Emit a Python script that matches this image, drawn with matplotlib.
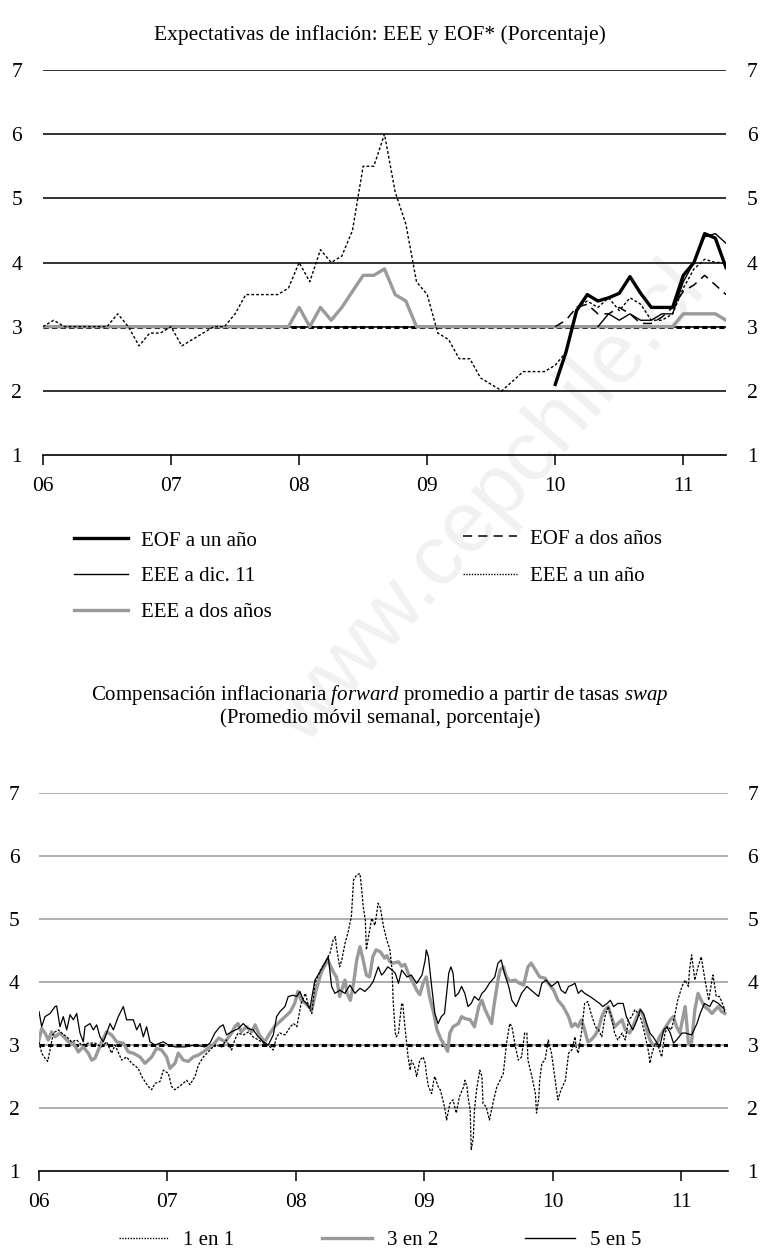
import numpy as np
import matplotlib
matplotlib.use("Agg")
import matplotlib.pyplot as plt
from matplotlib.lines import Line2D

plt.rcParams['font.family'] = ['Liberation Serif', 'DejaVu Serif']
plt.rcParams['mathtext.fontset'] = 'custom'
plt.rcParams['mathtext.it'] = 'Liberation Serif:italic'
plt.rcParams['mathtext.rm'] = 'Liberation Serif'

years = ['06', '07', '08', '09', '10', '11']
year_pos = [0, 12, 24, 36, 48, 60]   # months since Jan 2006

# --- top chart: monthly surveys (Jan 2006 = month 0) ---
eee_1y = [3.0, 3.1, 3.0, 3.0, 3.0, 3.0, 3.0, 3.2, 3.0, 2.7,
          2.9, 2.9, 3.0, 2.7, 2.8, 2.9, 3.0, 3.0, 3.2, 3.5,
          3.5, 3.5, 3.5, 3.6, 4.0, 3.7, 4.2, 4.0, 4.1, 4.5,
          5.5, 5.5, 6.0, 5.1, 4.6, 3.7, 3.5, 2.9, 2.8, 2.5,
          2.5, 2.2, 2.1, 2.0, 2.15, 2.3, 2.3, 2.3, 2.4, 2.6,
          3.3, 3.4, 3.3, 3.45, 3.25, 3.45, 3.35, 3.1, 3.1, 3.2,
          3.6, 3.9, 4.05, 4.0, 4.0]
eee_2y = [3.0] * 24 + [3.3, 3.0, 3.3, 3.1, 3.3, 3.55, 3.8, 3.8, 3.9, 3.5, 3.4] \
         + [3.0] * 25 + [3.2, 3.2, 3.2, 3.2, 3.1]
eee_dic11_start = 52
eee_dic11 = [3.0, 3.2, 3.1, 3.2, 3.1, 3.1, 3.2, 3.2, 3.7, 4.0, 4.4, 4.45, 4.3]
eof_start = 48
eof_1y = [2.1, 2.6, 3.25, 3.5, 3.4, 3.45, 3.52, 3.78, 3.52, 3.3, 3.3, 3.3,
          3.8, 4.0, 4.45, 4.38, 3.92]
eof_2y = [3.0, 3.1, 3.3, 3.35, 3.2, 3.2, 3.3, 3.2, 3.05, 3.05, 3.15, 3.3,
          3.55, 3.65, 3.8, 3.65, 3.5]
meta = 3.0

# --- bottom chart: (month since Jan 2006, %) ---
uno_en_uno = [
    (0.0, 3.05), (0.25, 2.87), (0.56, 2.79), (0.81, 2.74), (1.03, 2.92), (1.34, 3.19),
    (1.81, 3.24), (2.12, 3.19), (2.59, 3.13), (3.05, 3.05), (3.52, 3.08), (3.99, 3.0),
    (4.61, 3.03), (5.23, 3.03), (5.86, 2.97), (6.32, 3.05), (6.79, 2.87), (7.10, 3.0),
    (7.73, 2.76), (8.19, 2.81), (8.66, 2.71), (9.28, 2.63), (9.60, 2.50), (9.91, 2.42),
    (10.22, 2.34), (10.53, 2.29), (10.84, 2.39), (11.31, 2.42), (11.62, 2.60), (12.09, 2.55),
    (12.40, 2.34), (12.71, 2.29), (13.33, 2.37), (13.80, 2.44), (14.11, 2.37), (14.58, 2.50),
    (14.89, 2.68), (15.36, 2.81), (15.98, 2.92), (16.45, 3.0), (17.1, 2.97), (17.5, 3.08),
    (18.0, 2.92), (18.3, 3.08), (18.6, 3.19), (19.1, 3.16), (19.6, 3.21), (20.0, 3.13),
    (20.5, 3.08), (21.0, 3.03), (21.4, 3.0), (21.9, 2.92), (22.2, 3.13), (22.5, 3.19),
    (23.0, 3.16), (23.5, 3.29), (23.8, 3.34), (24.1, 3.29), (24.5, 3.66), (24.9, 3.82),
    (25.2, 3.61), (25.5, 3.50), (25.8, 3.98), (26.3, 4.19), (26.7, 4.30), (27.2, 4.46),
    (27.5, 4.67), (27.7, 4.72), (27.8, 4.56), (28.1, 4.24), (28.3, 4.35), (28.6, 4.61),
    (28.9, 4.80), (29.2, 5.04), (29.4, 5.62), (29.7, 5.70), (30.0, 5.72), (30.2, 5.41),
    (30.3, 5.20), (30.5, 4.98), (30.6, 4.51), (30.8, 4.72), (31.1, 5.01), (31.4, 4.9),
    (31.7, 5.25), (31.9, 5.18), (32.2, 4.88), (32.5, 4.67), (32.8, 4.51), (33.0, 4.19),
    (33.1, 3.71), (33.3, 3.19), (33.4, 3.13), (33.6, 3.19), (33.9, 3.66), (34.0, 3.66),
    (34.2, 3.29), (34.4, 2.97), (34.5, 2.81), (34.7, 2.60), (34.8, 2.76), (35.1, 2.66),
    (35.3, 2.50), (35.6, 2.76), (35.9, 2.81), (36.1, 2.71), (36.2, 2.55), (36.4, 2.34),
    (36.7, 2.23), (36.9, 2.44), (37.0, 2.50), (37.3, 2.34), (37.5, 2.29), (37.6, 2.23),
    (37.9, 2.02), (38.1, 1.81), (38.4, 2.07), (38.7, 2.13), (39.0, 1.92), (39.3, 2.18),
    (39.7, 2.34), (39.8, 2.44), (40.0, 2.34), (40.1, 2.18), (40.3, 1.97), (40.4, 1.33),
    (40.6, 1.54), (40.7, 1.97), (40.9, 2.29), (41.2, 2.60), (41.4, 2.50), (41.5, 2.07),
    (41.8, 2.02), (42.1, 1.81), (42.5, 2.13), (42.8, 2.34), (43.1, 2.44), (43.4, 2.55),
    (43.7, 3.03), (44.0, 3.34), (44.2, 3.29), (44.5, 3.0), (44.8, 2.76), (45.1, 2.81),
    (45.4, 3.19), (45.6, 3.19), (45.7, 2.76), (46.0, 2.55), (46.4, 2.23), (46.5, 1.92),
    (46.7, 2.13), (46.8, 2.44), (47.0, 2.71), (47.3, 2.76), (47.6, 3.08), (47.9, 2.87),
    (48.2, 2.5), (48.5, 2.13), (48.8, 2.29), (49.2, 2.44), (49.5, 2.87), (49.8, 2.92),
    (50.1, 3.13), (50.2, 2.97), (50.4, 2.87), (50.7, 3.19), (51.0, 3.66), (51.3, 3.69),
    (51.6, 3.50), (52.0, 3.29), (52.3, 3.24), (52.6, 3.13), (52.9, 3.45), (53.2, 3.61),
    (53.5, 3.45), (53.8, 3.19), (54.1, 3.08), (54.5, 3.19), (54.8, 3.08), (55.1, 3.40),
    (55.4, 3.45), (55.7, 3.56), (56.0, 3.50), (56.3, 3.40), (56.6, 3.19), (57.0, 2.87),
    (57.1, 2.71), (57.3, 2.87), (57.6, 3.03), (57.9, 2.97), (58.2, 2.81), (58.5, 3.19),
    (58.8, 3.29), (59.1, 3.24), (59.4, 3.45), (59.7, 3.71), (60.1, 3.93), (60.4, 4.03),
    (60.7, 3.93), (60.8, 4.19), (61.0, 4.43), (61.3, 4.03), (61.6, 4.24), (61.9, 4.40),
    (62.2, 4.08), (62.6, 3.71), (62.9, 4.03), (63.0, 4.11), (63.3, 3.77), (63.6, 3.77),
    (64.0, 3.61), (64.1, 3.50)]

tres_en_dos = [
    (0.0, 3.08), (0.25, 3.26), (0.56, 3.19), (0.87, 3.08), (1.18, 3.21), (1.50, 3.13),
    (1.96, 3.19), (2.43, 3.11), (2.74, 3.05), (3.21, 3.03), (3.68, 2.89), (4.14, 2.97),
    (4.61, 2.87), (4.92, 2.76), (5.23, 2.79), (5.55, 2.92), (5.86, 3.05), (6.32, 3.21),
    (6.79, 3.16), (7.26, 3.05), (7.88, 3.03), (8.35, 2.89), (8.82, 2.87), (9.44, 2.81),
    (9.91, 2.71), (10.53, 2.81), (11.0, 2.95), (11.46, 2.92), (11.93, 2.81), (12.24, 2.63),
    (12.71, 2.71), (13.02, 2.87), (13.49, 2.76), (13.96, 2.74), (14.42, 2.81), (14.89, 2.84),
    (15.36, 2.89), (15.83, 2.95), (16.1, 2.97), (16.8, 3.11), (17.4, 3.05), (18.0, 3.19),
    (18.3, 3.29), (18.6, 3.34), (18.9, 3.21), (19.4, 3.29), (19.9, 3.21), (20.2, 3.32),
    (20.6, 3.16), (21.1, 3.05), (21.6, 3.19), (22.0, 3.29), (22.5, 3.37), (23.0, 3.45),
    (23.5, 3.53), (23.9, 3.66), (24.2, 3.85), (24.5, 3.71), (24.9, 3.66), (25.2, 3.61),
    (25.5, 3.56), (25.9, 3.87), (26.4, 4.16), (27.0, 4.35), (27.5, 4.16), (27.8, 4.08),
    (28.1, 3.77), (28.4, 3.93), (28.6, 4.03), (28.8, 3.82), (29.1, 3.71), (29.4, 3.98),
    (29.7, 4.35), (30.0, 4.56), (30.3, 4.35), (30.6, 4.11), (30.9, 4.08), (31.2, 4.40),
    (31.5, 4.51), (31.9, 4.48), (32.3, 4.38), (32.5, 4.42), (32.8, 4.32), (33.1, 4.30),
    (33.6, 4.32), (33.9, 4.25), (34.2, 4.28), (34.5, 4.14), (35.0, 3.98), (35.3, 3.87),
    (35.6, 3.80), (35.9, 3.98), (36.2, 4.08), (36.5, 3.77), (36.9, 3.50), (37.2, 3.24),
    (37.6, 3.08), (37.9, 3.0), (38.2, 2.90), (38.4, 3.19), (38.7, 3.29), (39.2, 3.34),
    (39.5, 3.45), (39.8, 3.42), (40.3, 3.40), (40.7, 3.29), (41.1, 3.61), (41.4, 3.71),
    (41.7, 3.56), (42.0, 3.45), (42.3, 3.34), (42.6, 3.71), (42.9, 4.03), (43.1, 4.19),
    (43.4, 4.24), (43.7, 4.08), (44.0, 4.01), (44.5, 4.03), (44.9, 3.98), (45.3, 3.95),
    (45.7, 4.24), (46.0, 4.30), (46.4, 4.19), (46.8, 4.08), (47.3, 4.06), (47.6, 3.98),
    (48.1, 3.87), (48.5, 3.71), (49.0, 3.61), (49.5, 3.45), (49.8, 3.29), (50.1, 3.34),
    (50.4, 3.29), (50.7, 3.40), (51.0, 3.24), (51.3, 3.05), (51.6, 3.08), (52.0, 3.16),
    (52.3, 3.26), (52.6, 3.45), (52.9, 3.56), (53.2, 3.61), (53.5, 3.45), (53.8, 3.29),
    (54.1, 3.34), (54.5, 3.40), (54.8, 3.24), (55.2, 3.19), (55.5, 3.29), (55.9, 3.45),
    (56.2, 3.56), (56.5, 3.45), (56.8, 3.24), (57.1, 3.08), (57.4, 3.0), (57.7, 3.0),
    (58.0, 3.13), (58.4, 3.24), (58.7, 3.32), (59.0, 3.40), (59.3, 3.45), (59.6, 3.29),
    (59.9, 3.19), (60.2, 3.45), (60.4, 3.61), (60.7, 3.03), (61.0, 3.05), (61.3, 3.56),
    (61.6, 3.82), (61.9, 3.71), (62.2, 3.61), (62.6, 3.56), (62.9, 3.50), (63.2, 3.56),
    (63.5, 3.61), (63.8, 3.53), (64.1, 3.50)]

cinco_en_cinco = [
    (0.0, 3.53), (0.25, 3.29), (0.56, 3.45), (1.03, 3.50), (1.50, 3.61), (1.65, 3.62),
    (1.96, 3.29), (2.27, 3.45), (2.59, 3.24), (2.90, 3.48), (3.21, 3.40), (3.52, 3.50),
    (3.83, 3.19), (4.14, 3.05), (4.30, 3.29), (4.77, 3.34), (5.08, 3.24), (5.39, 3.32),
    (5.70, 3.13), (6.01, 3.05), (6.32, 3.19), (6.64, 3.34), (6.95, 3.24), (7.41, 3.45),
    (7.88, 3.61), (8.19, 3.40), (8.50, 3.40), (8.82, 3.40), (9.13, 3.24), (9.44, 3.34),
    (9.75, 3.13), (10.06, 3.29), (10.37, 3.05), (10.84, 3.0), (11.62, 3.05), (12.09, 3.0),
    (12.71, 2.97), (13.64, 2.97), (14.58, 3.0), (15.51, 2.97), (15.98, 3.03), (16.44, 3.19),
    (16.91, 3.29), (17.22, 3.32), (17.53, 3.16), (18.0, 3.21), (18.63, 3.26), (19.09, 3.34),
    (19.56, 3.26), (20.03, 3.24), (20.49, 3.13), (20.96, 3.05), (21.43, 3.0), (21.90, 3.16),
    (22.21, 3.45), (22.52, 3.53), (22.99, 3.61), (23.30, 3.77), (23.77, 3.79), (24.08, 3.77),
    (24.39, 3.85), (24.70, 3.71), (25.01, 3.66), (25.32, 3.58), (25.79, 4.03), (26.26, 4.16),
    (26.72, 4.30), (27.04, 4.40), (27.35, 3.93), (27.66, 3.82), (28.13, 3.87), (28.59, 3.82),
    (29.06, 3.95), (29.53, 3.82), (30.0, 3.90), (30.46, 3.85), (30.93, 3.93), (31.24, 4.01),
    (31.71, 4.24), (32.02, 4.11), (32.2, 4.14), (32.6, 4.24), (33.0, 4.19), (33.3, 4.14),
    (33.6, 3.98), (33.9, 4.19), (34.4, 4.08), (34.8, 4.11), (35.3, 3.98), (35.8, 4.11),
    (36.1, 4.35), (36.2, 4.51), (36.4, 4.40), (36.7, 3.93), (37.0, 3.50), (37.3, 3.34),
    (37.6, 3.45), (37.9, 3.50), (38.3, 4.14), (38.5, 4.24), (38.7, 4.14), (38.9, 3.77),
    (39.2, 3.82), (39.5, 3.93), (39.8, 3.82), (40.1, 3.61), (40.4, 3.66), (40.7, 3.77),
    (41.1, 3.71), (41.4, 3.82), (41.7, 3.87), (42.1, 3.98), (42.6, 4.08), (42.9, 4.30),
    (43.2, 4.35), (43.5, 4.14), (43.9, 3.93), (44.2, 3.71), (44.6, 3.61), (45.1, 3.82),
    (45.6, 3.93), (46.0, 3.87), (46.7, 3.77), (47.0, 3.98), (47.4, 4.03), (47.9, 3.93),
    (48.5, 4.01), (48.8, 3.87), (49.2, 3.82), (49.5, 3.93), (49.8, 3.95), (50.1, 3.98),
    (50.4, 3.82), (50.7, 3.87), (51.0, 3.82), (51.5, 3.77), (52.0, 3.71), (52.4, 3.66),
    (52.7, 3.61), (53.1, 3.66), (53.4, 3.71), (53.7, 3.61), (54.1, 3.66), (54.6, 3.66),
    (54.9, 3.45), (55.2, 3.34), (55.5, 3.24), (55.9, 3.40), (56.2, 3.56), (56.5, 3.50),
    (56.8, 3.34), (57.1, 3.19), (57.4, 3.13), (57.7, 3.05), (58.0, 2.97), (58.4, 3.24),
    (58.7, 3.29), (59.0, 3.19), (59.3, 3.03), (59.6, 3.08), (60.1, 3.19), (60.4, 3.19),
    (61.0, 3.16), (61.5, 3.34), (61.8, 3.50), (62.2, 3.66), (62.7, 3.61), (63.0, 3.71),
    (63.5, 3.66), (63.8, 3.61), (64.1, 3.56)]

GRAY = '#9a9a9a'
FS = 15

fig = plt.figure(figsize=(7.62, 12.53), dpi=100)
W, H = 762.0, 1253.0


def style_axis(ax, x_end, grid_color, pad_y):
    ax.set_facecolor('none')
    ax.set_ylim(1, 7)
    ax.set_yticks(range(1, 8))
    ax.set_xlim(0, x_end)
    ax.set_xticks(year_pos)
    ax.set_xticklabels(years)
    for s in ['top', 'left', 'right']:
        ax.spines[s].set_visible(False)
    ax.spines['bottom'].set_linewidth(1.2)
    ax.tick_params(axis='y', length=0, labelleft=True, labelright=True,
                   labelsize=15.5, pad=pad_y)
    ax.tick_params(axis='x', direction='out', length=7, width=1.1,
                   labelsize=15.5, pad=9)
    for y in range(2, 8):
        ax.axhline(y, color=grid_color, lw=1.3, zorder=1)


# ---------------- top panel ----------------
ax1 = fig.add_axes([43 / W, 1 - 455 / H, (726 - 43) / W, (455 - 70) / H])
style_axis(ax1, 64, '#222222', 15)

m = np.arange(len(eee_1y))
ax1.axhline(meta, color='black', lw=2.2, dashes=(1.7, 1.1), zorder=2)
ax1.plot(m, eee_2y, color=GRAY, lw=2.4, zorder=3)
ax1.plot(m, eee_1y, color='black', lw=1.0, dashes=(2, 1.5), zorder=4)
ax1.plot(np.arange(eee_dic11_start, eee_dic11_start + len(eee_dic11)), eee_dic11,
         color='black', lw=1.0, zorder=5)
m_eof = np.arange(eof_start, eof_start + len(eof_1y))
ax1.plot(m_eof, eof_2y, color='black', lw=1.1, dashes=(6, 4), zorder=5)
ax1.plot(m_eof, eof_1y, color='black', lw=2.4, zorder=6)

fig.text(380 / W, 1 - 35 / H, 'Expectativas de inflación: EEE y EOF* (Porcentaje)',
         ha='center', va='center', fontsize=15.5)

leg_a = [Line2D([], [], color='black', lw=2.4),
         Line2D([], [], color='black', lw=1.0),
         Line2D([], [], color=GRAY, lw=2.4)]
leg_b = [Line2D([], [], color='black', lw=1.1, dashes=(6, 4)),
         Line2D([], [], color='black', lw=1.0, dashes=(1, 1))]
fig.legend(leg_a, ['EOF a un año', 'EEE a dic. 11', 'EEE a dos años'],
           loc='upper left', bbox_to_anchor=(74 / W, 1 - 531 / H), frameon=False,
           fontsize=FS, handlelength=2.6, handletextpad=0.6, labelspacing=0.78,
           borderpad=0, borderaxespad=0)
fig.legend(leg_b, ['EOF a dos años', 'EEE a un año'],
           loc='upper left', bbox_to_anchor=(463 / W, 1 - 529 / H), frameon=False,
           fontsize=FS, handlelength=2.6, handletextpad=0.6, labelspacing=0.85,
           borderpad=0, borderaxespad=0)

# ---------------- bottom panel ----------------
ax2 = fig.add_axes([39 / W, 1 - 1171 / H, (728 - 39) / W, (1171 - 793) / H])
style_axis(ax2, 64.4, '#a8a8a8', 14)

t1, v1 = zip(*uno_en_uno)
t3, v3 = zip(*tres_en_dos)
t5, v5 = zip(*cinco_en_cinco)
ax2.axhline(meta, color='black', lw=2.2, dashes=(1.7, 1.1), zorder=2)
ax2.plot(t3, v3, color=GRAY, lw=2.4, zorder=3)
ax2.plot(t5, v5, color='black', lw=0.9, zorder=4)
ax2.plot(t1, v1, color='black', lw=0.9, dashes=(2, 1.2), zorder=5)

fig.text(380 / W, 1 - 695 / H,
         r'Compensación inflacionaria $\it{forward}$ promedio a partir de tasas $\it{swap}$',
         ha='center', va='center', fontsize=FS)
fig.text(380 / W, 1 - 718 / H, '(Promedio móvil semanal, porcentaje)',
         ha='center', va='center', fontsize=FS)

leg_c = [Line2D([], [], color='black', lw=1.0, dashes=(1, 1)),
         Line2D([], [], color=GRAY, lw=2.4),
         Line2D([], [], color='black', lw=1.0)]
fig.legend(leg_c, ['1 en 1', '3 en 2', '5 en 5'], loc='center',
           bbox_to_anchor=(380 / W, 1 - 1240 / H), ncol=3, frameon=False,
           fontsize=FS, handlelength=2.4, handletextpad=0.7, columnspacing=4.2,
           borderpad=0, borderaxespad=0)

# watermark of the source
fig.text(490 / W, 1 - 505 / H, 'www.cepchile.cl', rotation=48.5, ha='center',
         va='center', fontsize=62, color='#f1f1f1', family='Liberation Sans',
         zorder=-5)

fig.savefig('out.png', dpi=100)
